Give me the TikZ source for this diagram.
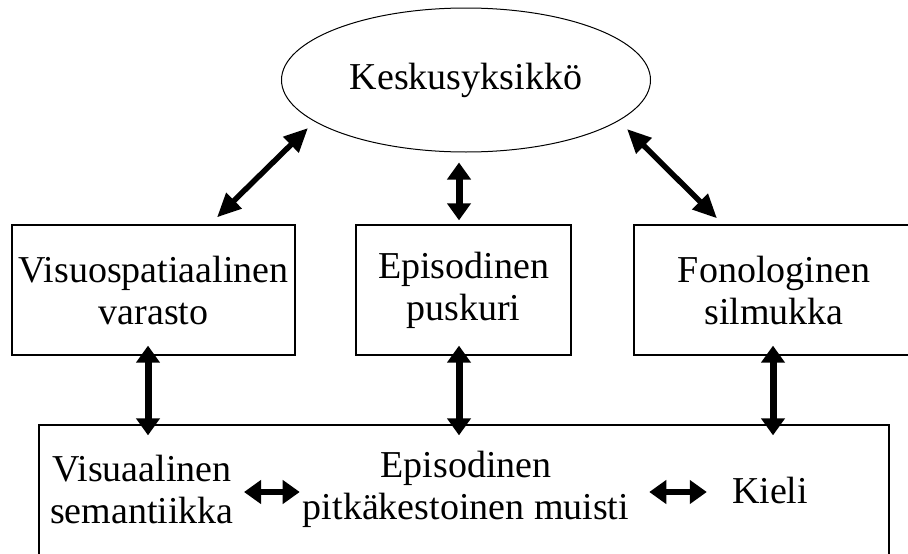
\documentclass[tikz,border=0pt]{standalone}
\usepackage{fontspec}
\setmainfont{Liberation Serif}
\usetikzlibrary{arrows.meta, positioning, shapes.geometric, calc}

\begin{document}
\begin{tikzpicture}[x=1pt, y=-1pt, >={Triangle[length=17pt,width=23pt]},
    every node/.style={font=\fontsize{38}{42}\selectfont},
    box/.style={rectangle, draw, line width=1.3pt, minimum height=130pt, align=center, inner sep=0pt},
    txt/.style={align=center, inner sep=0pt},
    link/.style={<->, line width=7pt},
    slant/.style={{Triangle[length=24pt,width=21pt]}-{Triangle[length=24pt,width=21pt]}, line width=5.5pt}]
  \useasboundingbox (0,0) rectangle (908,554);
  \node[ellipse, draw, line width=1pt, minimum width=369pt, minimum height=144pt, inner sep=0pt] (ks) at (466,80) {Keskusyksikkö};
  \node[box, minimum width=283pt] (vs) at (153.5,290) {Visuospatiaalinen\\varasto};
  \node[box, minimum width=215pt] (ep) at (463.5,290) {Episodinen\\puskuri};
  \node[box, minimum width=280pt] (fs) at (774,290) {Fonologinen\\silmukka};
  \node[box, minimum width=850pt, minimum height=136pt] (ltm) at (464,493) {};
  \node[txt] (vsem) at (142,489) {Visuaalinen\\semantiikka};
  \node[txt] (epm) at (466,489) {Episodinen\\pitkäkestoinen muisti};
  \node[txt] (ki) at (770,490) {Kieli};
  \draw[slant] ($(ks)+(-158,48)$) -- ($(vs.north)+(63.5,-7)$);
  \draw[link] ($(ks.south -| ep.north)+(-4.5,10)$) -- ($(ep.north)+(-4.5,-4)$);
  \draw[slant] ($(ks)+(161,49)$) -- ($(fs.north)+(-57,-6)$);
  \draw[link] ($(vs.south)+(-5.5,-10)$) -- ($(vs.south |- ltm.north)+(-5.5,11)$);
  \draw[link] ($(ep.south)+(-4.5,-10)$) -- ($(ep.south |- ltm.north)+(-4.5,11)$);
  \draw[link] ($(fs.south)+(-1,-10)$) -- ($(fs.south |- ltm.north)+(-1,11)$);
  \draw[link, line width=6pt] ($(vsem.east)+(10,3)$) -- ($(epm.west)+(-3,3)$);
  \draw[link, line width=6pt] ($(epm.east)+(20,3)$) -- ($(ki.west |- epm.east)+(-25,3)$);
\end{tikzpicture}
\end{document}
